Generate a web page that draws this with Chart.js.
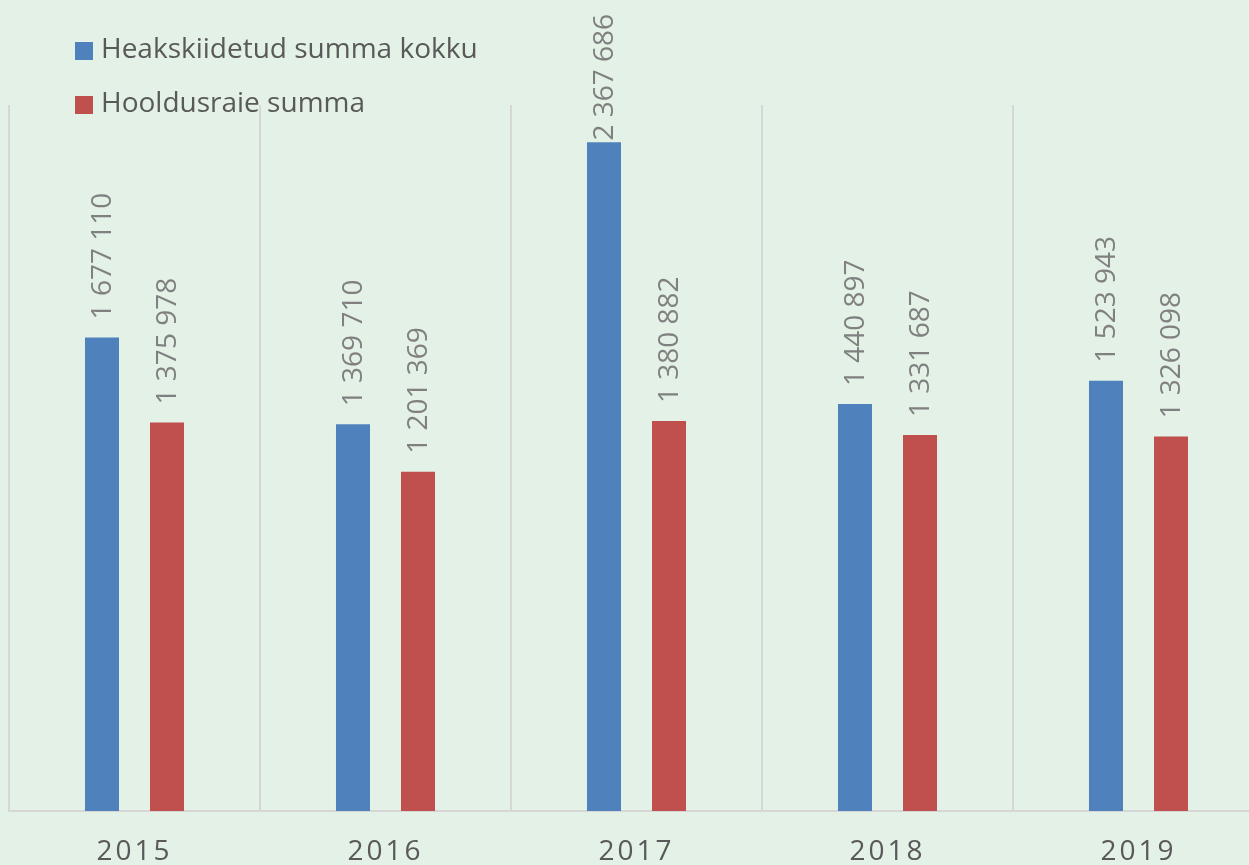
<!DOCTYPE html>
<html>
<head>
<meta charset="utf-8">
<script src="https://cdn.jsdelivr.net/npm/chart.js@4"></script>
<style>
  html, body { margin: 0; padding: 0; overflow: hidden; background: #e3f1e6; }
  #wrap { width: 1270px; height: 893px; position: relative; }
</style>
</head>
<body>
<div id="wrap"><canvas id="chart"></canvas></div>
<script>
const years = ["2015", "2016", "2017", "2018", "2019"];
const approved = [1677110, 1369710, 2367686, 1440897, 1523943];
const thinning = [1375978, 1201369, 1380882, 1331687, 1326098];
const seriesNames = ["Heakskiidetud summa kokku", "Hooldusraie summa"];

const fontFamily = "'Open Sans', 'Noto Sans', sans-serif";

function fmt(v) {
    return String(v).replace(/\B(?=(\d{3})+(?!\d))/g, " ");
}

// letter spacing for the year labels only
const spacing = {
    id: "spacing",
    beforeDraw(chart) {
        chart.ctx.letterSpacing = "3px";
    },
    beforeDatasetsDraw(chart) {
        chart.ctx.letterSpacing = "0px";
    }
};

// rotated value labels above the bars
const valueLabels = {
    id: "valueLabels",
    afterDatasetsDraw(chart) {
        const ctx = chart.ctx;
        ctx.save();
        ctx.font = "28px " + fontFamily;
        ctx.fillStyle = "#808080";
        ctx.textAlign = "left";
        ctx.textBaseline = "middle";
        chart.data.datasets.forEach((ds, i) => {
            chart.getDatasetMeta(i).data.forEach((bar, j) => {
                const text = fmt(ds.data[j]);
                const w = ctx.measureText(text).width;
                let y = bar.y - 18;
                if (y - w < 14) y = 14 + w;
                ctx.save();
                ctx.translate(bar.x + 1, y);
                ctx.rotate(-Math.PI / 2);
                ctx.fillText(text, 0, 0);
                ctx.restore();
            });
        });
        ctx.restore();
    }
};

// vertical legend in the top left corner
const sideLegend = {
    id: "sideLegend",
    afterDraw(chart) {
        const ctx = chart.ctx;
        ctx.save();
        ctx.font = "28px " + fontFamily;
        ctx.textBaseline = "middle";
        ctx.textAlign = "left";
        chart.data.datasets.forEach((ds, i) => {
            const top = 42 + i * 54;
            ctx.fillStyle = ds.backgroundColor;
            ctx.fillRect(75, top, 18, 18);
            ctx.fillStyle = "#595959";
            ctx.fillText(ds.label, 101, top + 8);
        });
        ctx.restore();
    }
};

new Chart(document.getElementById("chart"), {
    type: "bar",
    data: {
        labels: years,
        datasets: [
            {
                label: seriesNames[0],
                data: approved,
                backgroundColor: "#4f81bd",
                categoryPercentage: 0.518,
                barPercentage: 0.523
            },
            {
                label: seriesNames[1],
                data: thinning,
                backgroundColor: "#c0504d",
                categoryPercentage: 0.518,
                barPercentage: 0.523
            }
        ]
    },
    options: {
        responsive: true,
        maintainAspectRatio: false,
        animation: false,
        layout: {
            padding: { left: 9, right: 6, top: 105, bottom: 0 }
        },
        plugins: {
            legend: { display: false },
            tooltip: { enabled: false }
        },
        scales: {
            x: {
                grid: {
                    offset: true,
                    color: "#d6d6d6",
                    lineWidth: 2,
                    drawTicks: false
                },
                border: { color: "#d6d6d6", width: 2 },
                ticks: {
                    color: "#595959",
                    padding: 27,
                    font: { family: fontFamily, size: 28, lineHeight: 1 }
                }
            },
            y: {
                display: false,
                min: 0,
                max: 2500000
            }
        }
    },
    plugins: [spacing, valueLabels, sideLegend]
});
</script>
</body>
</html>
